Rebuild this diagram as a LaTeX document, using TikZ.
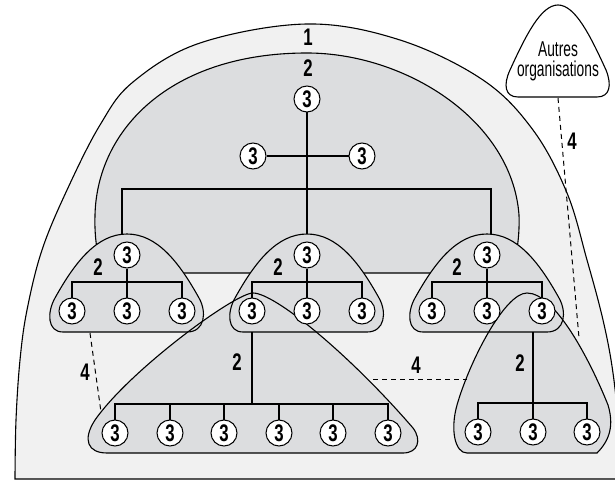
\documentclass[tikz,border=0pt]{standalone}
\usepackage{fontspec}
\setmainfont{Liberation Sans}[FakeStretch=0.7]
\newfontfamily\condfont{Liberation Sans}[FakeStretch=0.64]
\definecolor{outerfill}{gray}{0.945}
\definecolor{innerfill}{RGB}{220,221,223}
\pgfdeclarelayer{lzero}
\pgfdeclarelayer{lone}
\pgfdeclarelayer{ltwo}
\pgfdeclarelayer{lthree}
\pgfsetlayers{lzero,lone,ltwo,lthree,main}
\begin{document}
\begin{tikzpicture}[x=1pt,y=-1pt,
  every node/.style={inner sep=0pt},
  num/.style={font=\fontsize{24}{26}\selectfont\bfseries},
  unit/.style={circle,draw,fill=white,minimum size=26pt,line width=1pt,font=\fontsize{24}{26}\selectfont\bfseries},
  shapeline/.style={line width=1.1pt},
  link/.style={line width=1.2pt},
  dashlink/.style={line width=1pt,dash pattern=on 5pt off 4pt},
  bellpath/.style={insert path={(-64,332) -- (60,332) .. controls (78,332) and (80,312) .. (72,298) .. controls (52,262) and (30,234) .. (0,234) .. controls (-30,234) and (-52,262) .. (-72,298) .. controls (-80,312) and (-80,332) .. (-64,332) -- cycle}}]
\useasboundingbox (0,0) rectangle (615,481);

% ---------- circles ----------
\node[unit] (t0) at (307,99) {3};
\node[unit] (tl) at (253,156) {3};
\node[unit] (tr) at (362,156) {3};
\foreach \n/\x in {L/127,M/307,R/487}{
  \node[unit] (\n0) at (\x,255) {3};
  \node[unit] (\n1) at (\x-55,311) {3};
  \node[unit] (\n2) at (\x,311) {3};
  \node[unit] (\n3) at (\x+55,311) {3};
}
\foreach \i/\x in {1/115,2/170,3/224,4/279,5/333,6/388}{
  \node[unit] (B\i) at (\x,433) {3};
}
\foreach \i/\x in {1/478,2/533,3/587}{
  \node[unit] (D\i) at (\x,432) {3};
}

% ---------- background shapes ----------
\begin{pgfonlayer}{lzero}
\draw[shapeline,fill=outerfill] plot[smooth,tension=0.6] coordinates {(15,479) (16,420) (20,360) (27,310) (42,250) (67,190) (100,125) (133,82) (200,43) (307,24) (400,40) (483,80) (533,130) (567,193) (587,260) (603,320) (613,373) (620,440) (622,479)} -- cycle;
\draw[shapeline,fill=innerfill] (110,273) -- (505,273) .. controls (515,273) and (520,240) .. (519,215) .. controls (512,120) and (405,53) .. (307,53) .. controls (170,53) and (97,130) .. (95,215) .. controls (94,245) and (100,273) .. (110,273) -- cycle;
\end{pgfonlayer}

% ---------- top tree ----------
\coordinate (barL) at (122,189);
\coordinate (barR) at (491,189);
\coordinate (apL) at (122,245);
\coordinate (apR) at (491,245);
\begin{pgfonlayer}{lone}
\draw[link] (t0) -- (M0);
\draw[link] (tl) -- (tr);
\draw[link] (apL) -- (barL) -- (barR) -- (apR);
\end{pgfonlayer}

% ---------- groups ----------
\begin{pgfonlayer}{ltwo}
\foreach \x in {127,307,487}{
  \fill[innerfill,shift={(\x,0)},bellpath];
}
\fill[innerfill] (107,453) -- (403,453) .. controls (418,453) and (422,440) .. (413,428) .. controls (350,355) and (275,293) .. (253,293) .. controls (235,293) and (130,370) .. (95,420) .. controls (82,440) and (88,453) .. (107,453) -- cycle;
\fill[innerfill] (467,453) -- (597,453) .. controls (610,440) and (614,425) .. (608,405) .. controls (590,360) and (555,293) .. (527,293) .. controls (505,293) and (470,360) .. (457,405) .. controls (450,430) and (455,453) .. (467,453) -- cycle;
\end{pgfonlayer}
\begin{pgfonlayer}{lthree}
\foreach \x in {127,307,487}{
  \draw[shapeline,shift={(\x,0)},bellpath];
}
\draw[shapeline] (107,453) -- (403,453) .. controls (418,453) and (422,440) .. (413,428) .. controls (350,355) and (275,293) .. (253,293) .. controls (235,293) and (130,370) .. (95,420) .. controls (82,440) and (88,453) .. (107,453) -- cycle;
\draw[shapeline] (467,453) -- (597,453) .. controls (610,440) and (614,425) .. (608,405) .. controls (590,360) and (555,293) .. (527,293) .. controls (505,293) and (470,360) .. (457,405) .. controls (450,430) and (455,453) .. (467,453) -- cycle;
\end{pgfonlayer}

% ---------- links inside groups ----------
\foreach \n/\x in {L/127,M/307,R/487}{
  \coordinate (\n bar) at (\x,282);
  \draw[link] (\n0) -- (\n2);
  \draw[link] (\n1) |- (\n bar) -| (\n3);
}
\coordinate (Mbot) at (252,332);
\coordinate (Bbar) at (252,404);
\draw[link] (Mbot) -- (Bbar);
\draw[link] (B1) |- (Bbar) -| (B6);
\foreach \i in {2,...,5}{
  \draw[link] (B\i) -- (B\i |- Bbar);
}
\coordinate (Rbot) at (533,332);
\coordinate (Dbar) at (533,403);
\draw[link] (Rbot) -- (D2);
\draw[link] (D1) |- (Dbar) -| (D3);

% ---------- other organisations ----------
\draw[shapeline,fill=white] (518,97) -- (597,97) .. controls (610,97) and (612,85) .. (606,70) .. controls (590,35) and (575,5) .. (558,5) .. controls (541,5) and (526,35) .. (510,70) .. controls (503,85) and (505,97) .. (518,97) -- cycle;
\node[align=center,font=\condfont\fontsize{21.5}{20}\selectfont] (autres) at (558,61) {Autres\\organisations};

% ---------- dashed relations ----------
\coordinate (d1a) at (90,333);
\coordinate (d1b) at (101,412);
\coordinate (d2a) at (373,379);
\coordinate (d2b) at (467,379);
\coordinate (d3a) at (558,98);
\coordinate (d3b) at (579,338);
\draw[dashlink] (d1a) -- (d1b);
\draw[dashlink] (d2a) -- (d2b);
\draw[dashlink] (d3a) -- (d3b);

% ---------- labels ----------
\node[num] (n1) at (308,37) {1};
\node[num] (n2top) at (308,68) {2};
\node[num] (n2L) at (98,267) {2};
\node[num] (n2M) at (278,267) {2};
\node[num] (n2R) at (457,267) {2};
\node[num] (n2B) at (237,362) {2};
\node[num] (n2D) at (520,363) {2};
\node[num] (n4a) at (85,372) {4};
\node[num] (n4b) at (416,365) {4};
\node[num] (n4c) at (572,141) {4};
\end{tikzpicture}
\end{document}
